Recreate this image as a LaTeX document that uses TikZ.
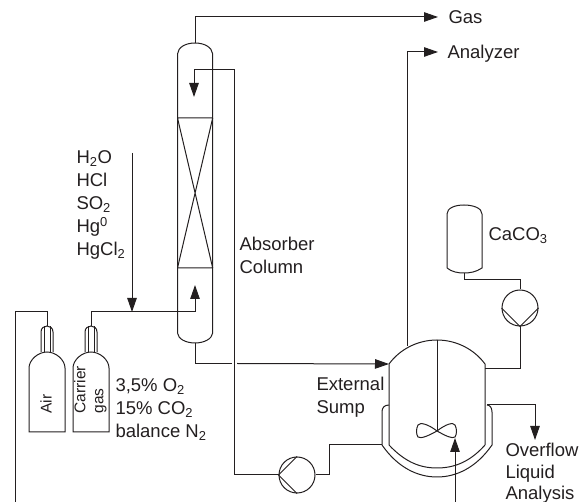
\documentclass[tikz,border=0pt]{standalone}
\usepackage{fontspec}
\setmainfont{Liberation Sans}
\usepackage{xcolor}
\usetikzlibrary{arrows.meta}
\definecolor{myink}{RGB}{35, 31, 32}

\begin{document}
\begin{tikzpicture}[x=1pt,y=-1pt,line width=1pt,draw=myink,
          line/.style={draw=myink,line width=1pt},
          flow/.style={line,-{Triangle[length=14pt,width=9.5pt]}},
          pumpnode/.style={circle,draw=myink,line width=1pt,minimum size=36pt,inner sep=0pt},
          lbl/.style={font=\fontsize{18.5}{23}\selectfont,text=myink,align=left,inner sep=0pt,anchor=north west},
          bottlelbl/.style={font=\fontsize{15.5}{18}\selectfont,text=myink,align=left,inner sep=0pt,rotate=90,anchor=south west}]
        \useasboundingbox (0,0) rectangle (579,502);
        % absorber column
        \coordinate (coltop) at (195,43);
        \coordinate (colbot) at (195,343);
        \draw[line] (177.5,333) -- (177.5,54) .. controls (178,47) and (186,43) .. (coltop)
          .. controls (204,43) and (212,47) .. (212.7,54) -- (212.7,333)
          .. controls (212,339) and (204,343) .. (colbot) .. controls (186,343) and (178,339) .. (177.5,333);
        \draw[line] (177.5,118) -- (212.7,118) (177.5,268) -- (212.7,268)
          (177.5,118) -- (212.7,268) (212.7,118) -- (177.5,268);
        % reactor
        \coordinate (vesselin) at (389,364);
        \coordinate (vesselgas) at (407,346);
        \coordinate (vesselfeed) at (485,369);
        \coordinate (vesselover) at (487,405);
        \coordinate (jacketin) at (382,445);
        \draw[line] (389,445) -- (vesselin) .. controls (400,349) and (418,340) .. (437,340)
          .. controls (456,340) and (474,349) .. (485,364) -- (485,445);
        \draw[line] (389,445) .. controls (405,462) and (420,468) .. (437,468)
          .. controls (454,468) and (470,462) .. (485,445);
        \draw[line] (vesselover) .. controls (490,405) and (492,408) .. (492,412) -- (492,445)
          .. controls (476,468) and (456,477) .. (437,477)
          .. controls (418,477) and (398,468) .. (jacketin) -- (382,412)
          .. controls (382,408) and (384,405) .. (389,405);
        \draw[line] (437,340) -- (437,431);
        \draw[line] (437,431) .. controls (428,424) and (420,422) .. (418,425)
          .. controls (416,429) and (416,434) .. (418,437) .. controls (421,439) and (428,436) .. (437,431)
          .. controls (446,424) and (453,422) .. (455,425) .. controls (457,429) and (457,434) .. (455,437)
          .. controls (452,439) and (446,436) .. (437,431);
        % CaCO3 tank
        \coordinate (tankout) at (464,273);
        \draw[line] (447,268) -- (447,214) .. controls (447,208) and (455,205) .. (464,205)
          .. controls (473,205) and (482,208) .. (482,214) -- (482,268)
          .. controls (476,272) and (470,273) .. (tankout) .. controls (458,273) and (452,272) .. (447,268);
        % pumps
        \node[pumpnode](pumpfeed) at (520,308){};
        \draw[line] (pumpfeed.180) -- (pumpfeed.south) -- (pumpfeed.0);
        \node[pumpnode](pumpcirc) at (297,475){};
        \draw[line] (pumpcirc.north) -- (pumpcirc.west) -- (pumpcirc.south);
        % gas bottles
        \foreach \cx/\nm in {47/air,91/carrier}{
          \coordinate (\nm) at (\cx,326);
          \draw[line] (\cx-18,432) -- (\cx-18,368) .. controls (\cx-18,360) and (\cx-9,352) .. (\cx,352)
            .. controls (\cx+9,352) and (\cx+18,360) .. (\cx+18,368) -- (\cx+18,432) -- cycle;
          \draw[line] (\cx-6,352) -- (\cx-6,332) .. controls (\cx-6,328) and (\cx-3,326) .. (\nm)
            .. controls (\cx+3,326) and (\cx+6,328) .. (\cx+6,332) -- (\cx+6,352);
          \draw[line] (\cx-3,352) -- (\cx-3,326.5) (\cx+3,352) -- (\cx+3,326.5);
        }
        % connectors
        \coordinate (airend) at (15,502);
        \coordinate (junction) at (132,312);
        \coordinate (mixstart) at (132,153);
        \coordinate (colin) at (195,285);
        \coordinate (refluxin) at (194,97);
        \coordinate (refluxend) at (234.5,475);
        \coordinate (gasout) at (438,17);
        \coordinate (analyzer) at (438,52);
        \coordinate (overflow) at (535,440);
        \coordinate (baseflow) at (455,438);
        \coordinate (baseend) at (455,502);
        \draw[line] (air) -- (47,312) -- (15,312) -- (airend);
        \draw[flow] (carrier) -- (91,312) -- (195,312) -- (colin);
        \draw[flow] (mixstart) -- (junction);
        \draw[flow] (coltop) -- (195,17) -- (gasout);
        \draw[flow] (vesselgas) -- (407,52) -- (analyzer);
        \draw[flow] (pumpcirc.west) -- (refluxend) -- (234.5,70) -- (194,70) -- (refluxin);
        \draw[line] (colbot) -- (195,363.5) -- (232,363.5);
        \draw[flow] (237,363.5) -- (vesselin);
        \draw[line] (pumpcirc.east) -- (329,475) -- (329,445) -- (jacketin);
        \draw[line] (tankout) -- (464,280) -- (520,280) -- (pumpfeed.north);
        \draw[line] (pumpfeed.south) -- (520,369) -- (vesselfeed);
        \draw[flow] (vesselover) -- (535,405) -- (overflow);
        \draw[flow] (baseend) -- (baseflow);
        % labels
        \node[lbl](gaslbl) at (448,10){Gas};
        \node[lbl](analyzerlbl) at (447,45){Analyzer};
        \node[lbl](mixlbl) at (76,150){H\textsubscript{2}O\\HCl\\SO\textsubscript{2}\\Hg\textsuperscript{0}\\HgCl\textsubscript{2}};
        \node[lbl](absorberlbl) at (239,237){Absorber\\Column};
        \node[lbl](caco) at (488,227){CaCO\textsubscript{3}};
        \node[lbl](carrierlbl) at (115,378){3,5\% O\textsubscript{2}\\15\% CO\textsubscript{2}\\balance N\textsubscript{2}};
        \node[lbl](sumplbl) at (316,377){External\\Sump};
        \node[lbl](overflowlbl) at (505,442.5){Overflow\\[-1.4pt]Liquid\\[-1.4pt]Analysis};
        \node[bottlelbl](airlbl) at (52,414){Air};
        \node[bottlelbl](carrierbot) at (107,414){Carrier\\gas};
      \end{tikzpicture}
\end{document}
